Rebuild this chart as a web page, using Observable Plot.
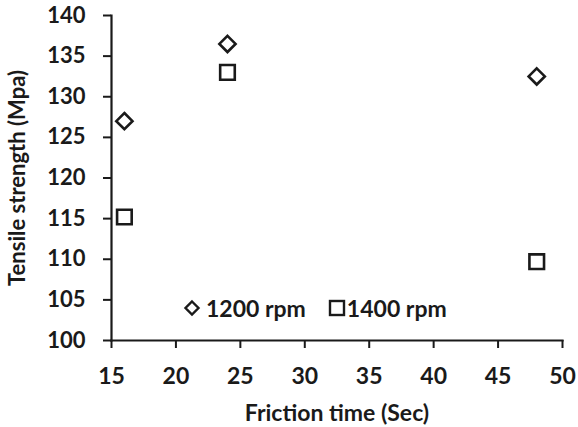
<!DOCTYPE html>
<html>
<head>
<meta charset="utf-8">
<script src="https://cdn.jsdelivr.net/npm/d3@7"></script>
<script src="https://cdn.jsdelivr.net/npm/@observablehq/plot@0.6"></script>
<style>
  body { margin: 0; background: #fff; }
  #wrap { position: relative; width: 578px; height: 427px; font-family: Lato, "Open Sans", sans-serif; color: #1a1a1a; }
  #legend { position: absolute; left: 183px; top: 294px; display: flex; align-items: center; font-size: 23px; font-weight: bold; }
  #legend .item { display: flex; align-items: center; }
  #legend .item0 { margin-right: 22px; }
  #legend .item0 svg { margin-right: 5px; }
  #legend .item1 svg { margin-right: 1px; }
</style>
</head>
<body>
<div id="wrap">
  <div id="chart"></div>
  <div id="legend"></div>
</div>
<script>
const seriesNames = ["1200 rpm", "1400 rpm"];
const frictionTime = [16, 24, 48];
const strength1200 = [127.0, 136.5, 132.5];
const strength1400 = [115.2, 133.0, 109.7];
const xTicks = [15, 20, 25, 30, 35, 40, 45, 50];
const yTicks = [100, 105, 110, 115, 120, 125, 130, 135, 140];

const d1200 = frictionTime.map((t, i) => ({time: t, strength: strength1200[i], series: seriesNames[0]}));
const d1400 = frictionTime.map((t, i) => ({time: t, strength: strength1400[i], series: seriesNames[1]}));
const ink = "#1a1a1a";

const chart = Plot.plot({
  width: 578,
  height: 427,
  marginLeft: 111,
  marginRight: 16,
  marginTop: 15,
  marginBottom: 87,
  style: {fontFamily: "Lato, 'Open Sans', sans-serif", fontSize: "22px", fontWeight: "bold", color: ink, background: "white"},
  x: {domain: [xTicks[0], xTicks[xTicks.length - 1]]},
  y: {domain: [yTicks[0], yTicks[yTicks.length - 1]]},
  marks: [
    Plot.axisX({ticks: xTicks, tickSize: 8, tickPadding: 19, strokeWidth: 2, label: "Friction time (Sec)", labelAnchor: "center", labelOffset: 80, labelArrow: false, fontSize: 23}),
    Plot.axisY({ticks: yTicks, tickSize: 8, tickPadding: 18, strokeWidth: 2, label: "Tensile strength (Mpa)", labelAnchor: "center", labelOffset: 102, labelArrow: false, fontSize: 22}),
    Plot.frame({anchor: "left", stroke: ink, strokeWidth: 2.2}),
    Plot.frame({anchor: "bottom", stroke: ink, strokeWidth: 2.2}),
    Plot.dot(d1200, {x: "time", y: "strength", symbol: "diamond2", r: 7.3, stroke: ink, strokeWidth: 2.6, fill: "white"}),
    Plot.dot(d1400, {x: "time", y: "strength", symbol: "square2", r: 9.3, stroke: ink, strokeWidth: 2.6, fill: "white"})
  ]
});
document.getElementById("chart").appendChild(chart);

// legend
const legend = document.getElementById("legend");
const shapes = [
  '<svg width="18" height="18" viewBox="-9 -9 18 18"><path d="M0,-6.5L6.5,0L0,6.5L-6.5,0Z" fill="white" stroke="' + ink + '" stroke-width="2.4"/></svg>',
  '<svg width="18" height="18" viewBox="-9 -9 18 18"><rect x="-7" y="-7" width="14" height="14" fill="white" stroke="' + ink + '" stroke-width="2.4"/></svg>'
];
seriesNames.forEach((name, i) => {
  const item = document.createElement("div");
  item.className = "item item" + i;
  item.innerHTML = shapes[i] + "<span>" + name + "</span>";
  legend.appendChild(item);
});
</script>
</body>
</html>
